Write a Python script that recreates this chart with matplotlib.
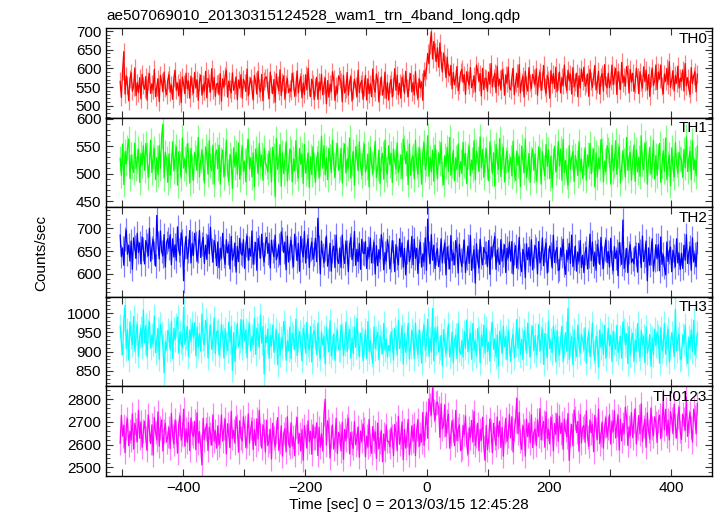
import numpy as np
from matplotlib import pyplot as plt

plt.rcParams['font.family'] = ['Liberation Sans', 'DejaVu Sans']

title = "ae507069010_20130315124528_wam1_trn_4band_long.qdp"
xlabel = "Time [sec] 0 = 2013/03/15 12:45:28"
ylabel = "Counts/sec"

# time bins (sec from 2013/03/15 12:45:28)
t_start, t_step = -503, 2

th0 = [565, 522, 593, 645, 531, 580, 556, 513, 571, 588, 539, 551, 601, 527, 562, 535, 575, 518, 584, 554,
       544, 578, 515, 567, 586, 533, 559, 542, 597, 524, 550, 572, 511, 581, 563, 537, 590, 546, 529, 568,
       583, 536, 555, 517, 574, 594, 541, 561, 526, 570, 508, 577, 558, 532, 587, 545, 566, 520, 579, 552,
       533, 589, 547, 569, 514, 564, 582, 528, 557, 539, 592, 521, 573, 560, 536, 599, 543, 576, 525, 558,
       560, 529, 586, 512, 572, 550, 579, 595, 523, 566, 545, 534, 588, 541, 554, 577, 516, 569, 548, 583,
       520, 571, 562, 538, 598, 526, 556, 574, 544, 515, 581, 565, 531, 592, 547, 537, 584, 513, 567, 575,
       577, 543, 519, 590, 559, 532, 570, 509, 585, 555, 540, 596, 527, 564, 580, 517, 557, 573, 535, 546,
       538, 587, 567, 525, 549, 593, 534, 563, 578, 521, 561, 530, 583, 542, 600, 551, 524, 571, 559, 516,
       549, 576, 517, 563, 542, 584, 529, 555, 574, 505, 567, 523, 558, 538, 591, 571, 514, 552, 533, 580,
       572, 564, 510, 581, 534, 544, 589, 528, 562, 578, 512, 541, 571, 553, 523, 595, 535, 559, 568, 517,
       551, 581, 515, 572, 532, 559, 524, 598, 548, 536, 585, 568, 510, 553, 577, 528, 545, 590, 519, 562,
       515, 558, 570, 523, 550, 599, 541, 582, 529, 560, 520, 577, 562, 533, 592, 548, 524, 566, 586, 537,
       562, 528, 591, 539, 520, 573, 547, 564, 514, 594, 578, 596, 640, 612, 662, 698, 625, 672, 644, 618,
       655, 603, 668, 622, 590, 641, 612, 575, 630, 587, 580, 608, 545, 589, 556, 575, 605, 540, 556, 589,
       597, 562, 583, 530, 591, 568, 555, 602, 548, 559, 580, 537, 609, 593, 564, 586, 526, 600, 543, 574,
       572, 539, 590, 557, 613, 550, 574, 587, 535, 606, 553, 571, 542, 596, 578, 528, 583, 561, 603, 547,
       542, 576, 600, 529, 560, 587, 549, 610, 534, 564, 579, 523, 592, 555, 539, 602, 562, 546, 584, 573,
       556, 599, 528, 573, 590, 541, 565, 608, 550, 533, 582, 570, 520, 594, 559, 586, 546, 603, 537, 567,
       590, 534, 576, 554, 609, 559, 541, 595, 566, 584, 531, 602, 550, 563, 587, 524, 580, 547, 598, 565,
       603, 552, 561, 585, 525, 597, 567, 549, 579, 608, 542, 558, 592, 531, 576, 586, 539, 610, 556, 548,
       587, 548, 565, 609, 556, 582, 600, 530, 591, 569, 543, 616, 561, 578, 552, 605, 586, 534, 597, 563,
       587, 538, 558, 600, 576, 532, 591, 562, 547, 604, 564, 595, 542, 583, 525, 574, 601, 554, 566, 609,
       543, 590, 571, 609, 552, 532, 585, 565, 600, 556, 618, 549, 568, 594, 539, 581, 560, 606, 547, 574,
       565, 596, 539, 613, 553, 575, 546, 530, 602, 559, 580, 591, 537, 584]

th1 = [528, 497, 554, 480, 540, 518, 547, 563, 491, 534, 513, 502, 556, 509, 522, 545, 484, 537, 516, 551,
       506, 555, 535, 493, 517, 561, 502, 531, 546, 489, 529, 498, 551, 510, 568, 590, 492, 539, 527, 484,
       536, 497, 514, 558, 505, 531, 549, 479, 540, 518, 492, 565, 510, 527, 501, 554, 535, 483, 546, 512,
       488, 539, 530, 506, 566, 494, 524, 542, 512, 483, 549, 533, 499, 560, 515, 505, 552, 481, 535, 543,
       509, 552, 481, 526, 543, 494, 518, 561, 503, 486, 535, 523, 473, 547, 512, 539, 499, 556, 490, 520,
       551, 504, 523, 485, 542, 562, 509, 529, 494, 538, 476, 545, 526, 500, 555, 513, 534, 488, 547, 520,
       514, 503, 541, 525, 485, 548, 532, 458, 564, 508, 523, 553, 477, 538, 500, 527, 558, 487, 511, 545,
       541, 485, 527, 505, 560, 510, 492, 546, 517, 535, 482, 553, 501, 514, 538, 475, 531, 498, 549, 516,
       484, 527, 539, 492, 519, 568, 510, 551, 498, 529, 489, 546, 531, 502, 561, 517, 493, 535, 555, 506,
       512, 546, 483, 535, 554, 501, 527, 510, 565, 492, 518, 540, 479, 549, 531, 505, 558, 514, 497, 536,
       554, 503, 512, 536, 476, 548, 518, 500, 530, 559, 493, 509, 543, 482, 527, 537, 490, 561, 507, 499,
       551, 516, 537, 484, 545, 522, 509, 556, 502, 513, 534, 491, 563, 547, 518, 540, 480, 554, 497, 528,
       533, 490, 561, 516, 499, 548, 524, 481, 539, 556, 507, 519, 569, 495, 530, 503, 543, 486, 552, 522,
       491, 538, 519, 557, 500, 480, 533, 513, 548, 504, 566, 497, 516, 542, 487, 529, 508, 554, 495, 522,
       501, 557, 515, 537, 482, 532, 550, 496, 525, 507, 560, 489, 541, 528, 504, 567, 511, 544, 493, 526,
       545, 511, 487, 558, 527, 500, 538, 477, 553, 523, 508, 564, 495, 532, 548, 485, 525, 541, 503, 514,
       530, 496, 559, 507, 488, 541, 515, 532, 477, 550, 524, 502, 563, 493, 511, 537, 484, 528, 545, 506,
       536, 487, 507, 549, 525, 481, 540, 511, 496, 553, 513, 544, 491, 532, 474, 523, 550, 503, 515, 558,
       514, 545, 488, 562, 502, 524, 495, 479, 551, 508, 529, 540, 486, 533, 520, 497, 558, 505, 526, 491,
       520, 547, 488, 534, 513, 555, 500, 526, 545, 476, 538, 494, 529, 509, 562, 542, 485, 523, 504, 551,
       543, 535, 481, 552, 505, 515, 560, 499, 533, 549, 483, 512, 542, 524, 494, 566, 506, 530, 539, 488,
       522, 552, 486, 543, 503, 530, 495, 569, 519, 507, 556, 539, 481, 524, 548, 499, 516, 561, 490, 533,
       497, 531, 555, 484, 515, 542, 504, 565, 489, 519, 534, 478, 547, 510, 494, 557, 517, 501, 539, 528,
       526, 493, 544, 511, 567, 504, 528, 541, 489, 560, 507, 525, 496, 550]

th2 = [685, 638, 657, 619, 676, 696, 643, 663, 628, 672, 610, 679, 660, 634, 689, 647, 668, 622, 681, 654,
       622, 673, 664, 640, 700, 628, 658, 676, 646, 617, 728, 667, 633, 694, 649, 639, 686, 615, 669, 677,
       656, 686, 620, 677, 637, 664, 629, 703, 653, 641, 690, 673, 585, 658, 682, 633, 650, 695, 624, 667,
       640, 689, 669, 627, 651, 695, 636, 665, 680, 623, 663, 632, 685, 644, 702, 653, 626, 673, 661, 618,
       670, 614, 656, 634, 689, 639, 621, 675, 646, 664, 611, 682, 630, 643, 667, 604, 660, 627, 678, 645,
       641, 675, 612, 664, 683, 630, 656, 639, 694, 621, 647, 669, 608, 678, 660, 634, 687, 643, 626, 665,
       680, 645, 666, 613, 674, 651, 638, 685, 631, 642, 663, 620, 692, 676, 647, 669, 609, 683, 626, 657,
       674, 640, 616, 687, 656, 629, 667, 606, 682, 652, 637, 693, 624, 661, 677, 614, 654, 670, 632, 643,
       678, 627, 722, 660, 600, 672, 642, 624, 654, 683, 617, 633, 667, 606, 651, 661, 614, 685, 631, 623,
       657, 614, 685, 640, 623, 672, 648, 605, 663, 680, 631, 643, 693, 619, 654, 627, 667, 610, 676, 646,
       644, 671, 612, 658, 637, 679, 624, 650, 669, 600, 662, 618, 653, 633, 686, 666, 609, 647, 628, 675,
       660, 611, 631, 673, 649, 605, 664, 635, 620, 677, 637, 668, 615, 656, 598, 647, 674, 627, 639, 682,
       620, 676, 634, 656, 601, 651, 669, 615, 644, 626, 679, 608, 720, 647, 623, 686, 630, 663, 612, 645,
       655, 616, 633, 677, 624, 650, 668, 598, 659, 637, 611, 684, 629, 646, 620, 673, 654, 602, 665, 631,
       616, 650, 674, 603, 634, 661, 623, 684, 608, 638, 653, 580, 666, 629, 613, 676, 636, 620, 658, 647,
       647, 616, 673, 599, 659, 637, 666, 682, 610, 653, 632, 621, 675, 628, 641, 664, 603, 656, 635, 670,
       628, 671, 600, 645, 662, 613, 637, 680, 622, 605, 654, 642, 592, 666, 631, 658, 618, 675, 609, 639,
       662, 654, 600, 671, 624, 634, 679, 618, 652, 668, 602, 631, 661, 643, 613, 685, 625, 649, 658, 607,
       610, 657, 638, 676, 619, 599, 652, 632, 667, 623, 685, 616, 635, 661, 606, 648, 627, 673, 614, 641,
       603, 646, 658, 611, 638, 687, 629, 670, 617, 648, 608, 665, 650, 621, 680, 636, 612, 654, 674, 625,
       649, 615, 678, 626, 607, 660, 634, 651, 596, 669, 643, 621, 718, 612, 630, 656, 603, 647, 664, 625,
       633, 622, 660, 644, 604, 667, 651, 614, 683, 627, 642, 672, 585, 657, 619, 646, 677, 606, 630, 664,
       633, 664, 607, 681, 621, 643, 614, 598, 670, 627, 648, 659, 605, 652, 639, 616, 677, 624, 645, 610,
       645, 612, 663, 630, 686, 623, 647, 660, 608, 679, 626, 644, 615, 669]

th3 = [966, 922, 891, 983, 1020, 908, 957, 878, 977, 938, 918, 991, 901, 949, 970, 888, 940, 961, 912, 1008,
       923, 968, 886, 953, 978, 909, 943, 921, 992, 897, 931, 960, 880, 971, 948, 914, 845, 926, 904, 955,
       944, 904, 978, 882, 960, 931, 969, 990, 896, 952, 925, 910, 1015, 919, 936, 966, 887, 956, 928, 974,
       936, 975, 889, 964, 912, 947, 901, 997, 932, 917, 981, 958, 883, 939, 970, 906, 928, 987, 895, 951,
       955, 891, 917, 971, 940, 883, 960, 922, 902, 977, 925, 965, 852, 949, 874, 938, 973, 912, 927, 983,
       909, 982, 927, 956, 884, 949, 973, 902, 940, 917, 986, 893, 961, 944, 913, 995, 922, 965, 842, 942,
       924, 959, 882, 942, 915, 969, 898, 932, 956, 866, 947, 890, 935, 909, 978, 952, 878, 928, 903, 964,
       882, 948, 937, 905, 984, 890, 929, 952, 913, 876, 961, 941, 896, 976, 917, 904, 965, 873, 943, 954,
       937, 892, 974, 907, 882, 951, 917, 939, 868, 963, 929, 900, 980, 889, 912, 946, 877, 934, 956, 905,
       905, 969, 943, 889, 920, 977, 900, 938, 958, 883, 935, 895, 964, 911, 986, 922, 887, 948, 933, 877,
       916, 956, 882, 978, 900, 929, 891, 870, 964, 908, 935, 950, 879, 941, 924, 894, 973, 904, 932, 886,
       916, 902, 951, 930, 878, 960, 939, 891, 981, 908, 928, 967, 868, 947, 898, 933, 973, 881, 912, 956,
       938, 882, 974, 915, 893, 957, 926, 870, 945, 968, 904, 919, 984, 888, 934, 899, 1012, 876, 962, 923,
       965, 899, 910, 942, 863, 957, 918, 895, 934, 971, 886, 906, 951, 871, 930, 943, 882, 974, 904, 893,
       929, 886, 952, 909, 982, 900, 931, 948, 880, 973, 904, 927, 889, 960, 936, 871, 943, 914, 969, 896,
       961, 900, 925, 875, 949, 975, 906, 932, 887, 944, 863, 953, 929, 895, 966, 912, 939, 879, 956, 921,
       874, 930, 945, 884, 919, 983, 908, 961, 892, 932, 880, 955, 935, 897, 974, 917, 886, 940, 966, 902,
       942, 891, 913, 970, 901, 935, 958, 867, 947, 918, 884, 979, 908, 930, 896, 965, 940, 873, 955, 910,
       891, 935, 966, 874, 914, 949, 900, 1012, 880, 919, 939, 866, 956, 908, 887, 969, 917, 896, 945, 931,
       906, 962, 870, 929, 951, 887, 918, 974, 899, 876, 940, 925, 860, 956, 910, 945, 893, 968, 882, 921,
       961, 915, 943, 874, 953, 923, 906, 968, 897, 912, 939, 883, 977, 956, 918, 947, 869, 965, 891, 931,
       948, 875, 930, 901, 973, 908, 884, 955, 917, 940, 871, 964, 896, 913, 944, 862, 935, 892, 958, 915,
       951, 940, 870, 962, 901, 914, 973, 893, 938, 958, 873, 910, 949, 926, 887, 1010, 902, 934, 945, 879,
       883, 944, 919, 969, 895, 869, 938, 912, 957, 900, 981, 891, 915, 949]

th0123 = [2606, 2729, 2637, 2685, 2564, 2674, 2714, 2595, 2659, 2619, 2736, 2580, 2694, 2665, 2613, 2751, 2628, 2701, 2588, 2661,
          2703, 2628, 2575, 2731, 2663, 2604, 2687, 2553, 2720, 2654, 2621, 2745, 2593, 2674, 2709, 2571, 2659, 2694, 2610, 2635,
          2676, 2582, 2738, 2639, 2602, 2709, 2657, 2562, 2690, 2727, 2619, 2646, 2756, 2593, 2670, 2610, 2698, 2573, 2718, 2652,
          2635, 2703, 2577, 2740, 2608, 2657, 2593, 2510, 2716, 2621, 2668, 2692, 2573, 2676, 2648, 2597, 2731, 2615, 2661, 2584,
          2683, 2597, 2635, 2731, 2615, 2672, 2712, 2558, 2692, 2643, 2586, 2747, 2626, 2663, 2606, 2723, 2681, 2566, 2705, 2630,
          2615, 2723, 2679, 2586, 2639, 2736, 2606, 2670, 2703, 2578, 2666, 2597, 2714, 2624, 2751, 2644, 2584, 2688, 2661, 2567,
          2708, 2595, 2615, 2668, 2536, 2694, 2628, 2589, 2655, 2719, 2573, 2609, 2683, 2549, 2648, 2670, 2567, 2723, 2604, 2587,
          2696, 2593, 2634, 2551, 2676, 2720, 2604, 2648, 2571, 2667, 2531, 2683, 2641, 2584, 2705, 2612, 2659, 2557, 2687, 2628,
          2630, 2696, 2551, 2676, 2588, 2648, 2571, 2734, 2800, 2597, 2705, 2668, 2540, 2635, 2687, 2580, 2617, 2716, 2560, 2654,
          2640, 2572, 2698, 2535, 2667, 2618, 2682, 2717, 2559, 2654, 2607, 2583, 2702, 2599, 2627, 2678, 2544, 2660, 2614, 2691,
          2669, 2546, 2638, 2590, 2711, 2601, 2561, 2680, 2616, 2656, 2539, 2695, 2581, 2610, 2662, 2524, 2647, 2574, 2687, 2614,
          2615, 2590, 2674, 2639, 2551, 2689, 2654, 2573, 2725, 2601, 2634, 2700, 2533, 2667, 2584, 2643, 2711, 2555, 2608, 2683,
          2615, 2690, 2551, 2666, 2708, 2591, 2648, 2611, 2742, 2596, 2673, 2742, 2628, 2802, 2777, 2730, 2851, 2750, 2707, 2783,
          2788, 2761, 2632, 2780, 2669, 2684, 2776, 2636, 2704, 2735, 2584, 2644, 2706, 2664, 2595, 2751, 2617, 2668, 2687, 2573,
          2582, 2685, 2644, 2727, 2602, 2558, 2674, 2630, 2707, 2611, 2747, 2595, 2637, 2694, 2573, 2666, 2619, 2721, 2591, 2530,
          2685, 2577, 2621, 2714, 2661, 2564, 2694, 2630, 2597, 2722, 2634, 2703, 2586, 2676, 2549, 2656, 2716, 2612, 2639, 2733,
          2629, 2723, 2567, 2666, 2703, 2805, 2648, 2743, 2615, 2578, 2686, 2659, 2549, 2712, 2635, 2695, 2607, 2732, 2587, 2653,
          2669, 2596, 2709, 2636, 2759, 2621, 2673, 2702, 2588, 2744, 2627, 2667, 2603, 2722, 2682, 2572, 2693, 2645, 2737, 2614,
          2726, 2649, 2695, 2579, 2713, 2662, 2634, 2737, 2530, 2642, 2689, 2594, 2752, 2717, 2653, 2702, 2570, 2733, 2607, 2675,
          2685, 2610, 2749, 2634, 2592, 2709, 2652, 2689, 2568, 2729, 2672, 2623, 2757, 2603, 2643, 2700, 2584, 2680, 2718, 2632,
          2673, 2732, 2602, 2704, 2657, 2750, 2629, 2686, 2728, 2576, 2712, 2616, 2693, 2649, 2765, 2721, 2596, 2679, 2638, 2741,
          2630, 2705, 2758, 2602, 2670, 2729, 2646, 2780, 2613, 2679, 2712, 2588, 2740, 2659, 2624, 2762, 2674, 2639, 2723, 2698,
          2609, 2703, 2730, 2626, 2686, 2793, 2666, 2756, 2639, 2708, 2620, 2745, 2712, 2648, 2778, 2681, 2628, 2721, 2765, 2657,
          2622, 2735, 2715, 2662, 2810, 2636, 2702, 2741, 2675, 2611, 2757, 2721, 2647, 2781]

bands = ["TH0", "TH1", "TH2", "TH3", "TH0123"]
errors = [24, 23, 26, 31, 52]
colors = ["#ff0000", "#00ff00", "#0000ff", "#00ffff", "#ff00ff"]
ylims = [(468, 708), (439, 602), (550, 746), (810, 1042), (2461, 2857)]
yticks = [[500, 550, 600, 650, 700], [450, 500, 550, 600], [600, 650, 700],
          [850, 900, 950, 1000], [2500, 2600, 2700, 2800]]
yminor = [10, 10, 10, 10, 20]

series = [th0, th1, th2, th3, th0123]

fig, axs = plt.subplots(5, 1, sharex=True, figsize=(7.17, 5.16), dpi=100)
fig.subplots_adjust(left=0.148, right=0.993, top=0.9457, bottom=0.0775, hspace=0)

for i, ax in enumerate(axs):
    y = np.array(series[i])
    t = t_start + t_step * np.arange(len(y))
    # error bars, lighter shade
    ax.vlines(t, y - errors[i], y + errors[i], color=colors[i], alpha=0.5, lw=0.9, zorder=2)
    ax.plot(t, y, '-', color=colors[i], lw=0.9, zorder=3)
    ax.set_ylim(*ylims[i])
    ax.set_yticks(yticks[i])
    lo, hi = ylims[i]
    m = yminor[i]
    ax.set_yticks(np.arange((lo // m + 1) * m, hi, m), minor=True)
    ax.tick_params(axis='both', which='both', direction='in', top=True, right=True,
                   labelsize=11, color='#333333')
    ax.tick_params(which='major', length=5)
    ax.tick_params(which='minor', length=3)
    ax.text(0.992, 0.96, bands[i], transform=ax.transAxes, ha='right', va='top', fontsize=11)
    for s in ax.spines.values():
        s.set_linewidth(1.0)

axs[-1].set_xlim(-526, 467)
axs[-1].set_xticks(np.arange(-500, 500, 100))
axs[-1].set_xticklabels(['' if v % 200 else ('\u2212%d' % -v if v < 0 else '%d' % v)
                         for v in range(-500, 500, 100)])
axs[-1].set_xlabel(xlabel, fontsize=11, labelpad=2)
fig.text(0.057, 0.51, ylabel, rotation=90, ha='center', va='center', fontsize=11)
axs[0].set_title(title, loc='left', fontsize=11, pad=6)

fig.savefig("out.png")
